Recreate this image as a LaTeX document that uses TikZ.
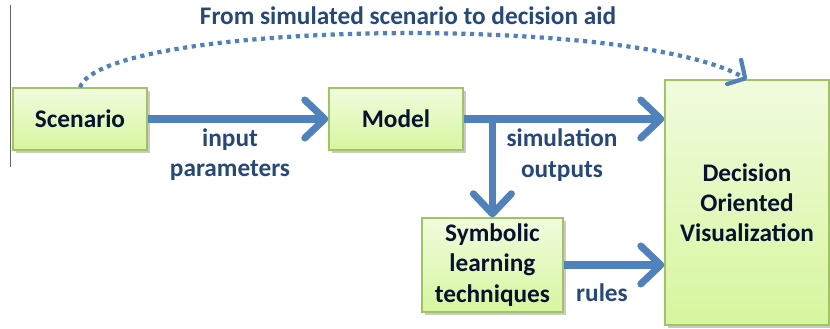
\documentclass[tikz,border=0pt]{standalone}
\usepackage{fontspec}
\setmainfont{Carlito}
\usetikzlibrary{arrows.meta,shadows}
\definecolor{arrowblue}{RGB}{79,129,189}
\definecolor{labelblue}{RGB}{38,72,122}
\definecolor{boxtext}{RGB}{8,18,48}
\definecolor{boxtop}{RGB}{241,251,222}
\definecolor{boxbottom}{RGB}{214,246,158}
\definecolor{boxline}{RGB}{160,196,100}
\tikzset{
  stepbox/.style={draw=boxline,line width=1pt,top color=boxtop,bottom color=boxbottom,
    text=boxtext,font=\fontsize{18}{21.5}\selectfont\bfseries,align=center,inner sep=0pt,
    drop shadow={shadow xshift=2pt,shadow yshift=-2pt,opacity=0.35,fill=black!60}},
  flow/.style={arrowblue,line width=5pt,-{Straight Barb[length=0.5cm,width=0.95cm,round]}},
  dotflow/.style={arrowblue,line width=3pt,dash pattern=on 3pt off 3.2pt,
    -{Straight Barb[length=0.32cm,width=0.7cm,round]}},
  lbl/.style={text=labelblue,font=\fontsize{18}{21.5}\selectfont\bfseries,align=center}
}
\begin{document}
\begin{tikzpicture}
  \useasboundingbox (0,0) rectangle (20.75,8.225);
  \draw[black!60,line width=0.6pt] (0.25,8.1) -- (0.25,4.05);
  \node[stepbox,minimum width=3.35cm,minimum height=1.55cm] (scen) at (2.0,5.25) {Scenario};
  \node[stepbox,minimum width=3.35cm,minimum height=1.55cm] (mod) at (9.9,5.25) {Model};
  \node[stepbox,minimum width=3.525cm,minimum height=2.35cm] (sym) at (12.31,1.6) {Symbolic\\learning\\techniques};
  \node[stepbox,minimum width=4.1cm,minimum height=6.125cm] (dec) at (18.675,3.16) {Decision\\Oriented\\Visualization};
  \node[lbl] (title) at (10.2,7.83) {From simulated scenario to decision aid};
  \node[lbl] (inp) at (5.75,4.35) {input\\parameters};
  \node[lbl] (simout) at (14.05,4.35) {simulation\\outputs};
  \node[lbl] (rul) at (15.05,0.9) {rules};
  \draw[flow] (scen.east) -- (mod.west);
  \draw[flow] (mod.east) -- (mod.east -| dec.west);
  \draw[flow] (sym.north |- mod.east) -- (sym.north);
  \draw[flow] (sym.east) -- (sym.east -| dec.west);
  \draw[dotflow] (scen.north) .. controls (2.6,7.7) and (15.8,7.9) .. (dec.north);
\end{tikzpicture}
\end{document}
